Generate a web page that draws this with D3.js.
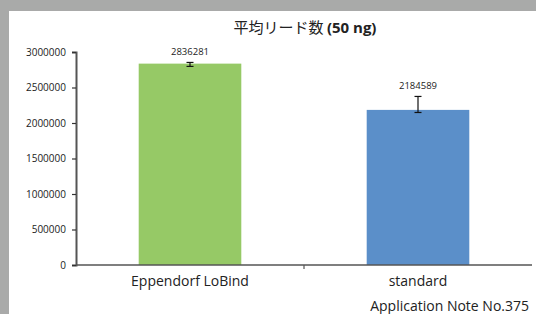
<!DOCTYPE html>
<html>
<head>
<meta charset="utf-8">
<script src="https://cdn.jsdelivr.net/npm/d3@7"></script>
<style>
  body { margin: 0; background: #a9aaa9; }
  svg { display: block; }
</style>
</head>
<body>
<script>
// data
const categories = ["Eppendorf LoBind", "standard"];
const values = [2836281, 2184589];
const errLow = [2797000, 2148000];
const errHigh = [2853000, 2374000];
const barColors = ["#96c966", "#5b8fc9"];
const yTicks = [0, 500000, 1000000, 1500000, 2000000, 2500000, 3000000];

const W = 536, H = 314;
const margin = {top: 52, right: 4, bottom: 49, left: 76};
const width = W - margin.left - margin.right,
      height = H - margin.top - margin.bottom;

const svg = d3.select("body").append("svg")
  .attr("width", W)
  .attr("height", H);

// white panel over grey frame
svg.append("rect").attr("x", 0).attr("y", 0).attr("width", W).attr("height", H).attr("fill", "#a9aaa9");
svg.append("rect").attr("x", 9).attr("y", 11).attr("width", W - 9).attr("height", H - 11).attr("fill", "#fff");

const font = "'Open Sans', 'Noto Sans CJK JP', sans-serif";

// title
const title = svg.append("text")
  .attr("x", 305).attr("y", 33)
  .attr("text-anchor", "middle")
  .attr("font-family", font)
  .attr("font-size", 15)
  .attr("fill", "#222");
title.append("tspan").attr("font-family", "'Noto Sans CJK JP', sans-serif").text("平均リード数 ");
title.append("tspan").attr("font-weight", "bold").text("(50 ng)");

const g = svg.append("g")
  .attr("transform", "translate(" + margin.left + "," + margin.top + ")");

const x = d3.scaleBand().domain(categories).range([0, 456]).paddingInner(0.55).paddingOuter(0.275);
const y = d3.scaleLinear().domain([0, 3000000]).range([height, 0]);

// bars
g.selectAll(".bar")
  .data(values)
  .join("rect")
  .attr("class", "bar")
  .attr("x", (d, i) => x(categories[i]))
  .attr("y", d => y(d))
  .attr("width", x.bandwidth())
  .attr("height", d => height - y(d))
  .attr("fill", (d, i) => barColors[i]);

// error bars
values.forEach((v, i) => {
  const cx = x(categories[i]) + x.bandwidth() / 2;
  const eb = g.append("g").attr("stroke", "#111").attr("stroke-width", 1.2);
  eb.append("line").attr("x1", cx).attr("x2", cx).attr("y1", y(errLow[i])).attr("y2", y(errHigh[i]));
  eb.append("line").attr("x1", cx - 3.5).attr("x2", cx + 3.5).attr("y1", y(errLow[i])).attr("y2", y(errLow[i]));
  eb.append("line").attr("x1", cx - 3.5).attr("x2", cx + 3.5).attr("y1", y(errHigh[i])).attr("y2", y(errHigh[i]));
  g.append("text")
    .attr("x", cx).attr("y", y(errHigh[i]) - 7)
    .attr("text-anchor", "middle")
    .attr("font-family", font)
    .attr("font-size", 9.5)
    .attr("fill", "#222")
    .text(v);
});

// y axis
const yAxis = g.append("g")
  .call(d3.axisLeft(y).tickValues(yTicks).tickSize(4).tickPadding(6).tickFormat(d3.format("d")));
yAxis.select(".domain").attr("stroke", "#555").attr("stroke-width", 2);
yAxis.selectAll(".tick line").attr("stroke", "#333").attr("stroke-width", 1.2);
yAxis.selectAll("text").attr("font-family", font).attr("font-size", 10).attr("fill", "#222");

// x axis
const xAxis = g.append("g").attr("transform", "translate(0," + height + ")");
xAxis.append("line").attr("x1", 0).attr("x2", 456).attr("y1", 0).attr("y2", 0)
  .attr("stroke", "#555").attr("stroke-width", 1.5);
xAxis.append("line")
  .attr("x1", x.step() * 1).attr("x2", x.step() * 1)
  .attr("y1", 0).attr("y2", 4)
  .attr("stroke", "#555").attr("stroke-width", 1.2);
xAxis.selectAll(".xlabel")
  .data(categories)
  .join("text")
  .attr("class", "xlabel")
  .attr("x", d => x(d) + x.bandwidth() / 2)
  .attr("y", 21)
  .attr("text-anchor", "middle")
  .attr("font-family", font)
  .attr("font-size", 14)
  .attr("fill", "#222")
  .text(d => d);

// footnote
svg.append("text")
  .attr("x", 529).attr("y", 311)
  .attr("text-anchor", "end")
  .attr("font-family", font)
  .attr("font-size", 14)
  .attr("fill", "#222")
  .text("Application Note No.375");
</script>
</body>
</html>
